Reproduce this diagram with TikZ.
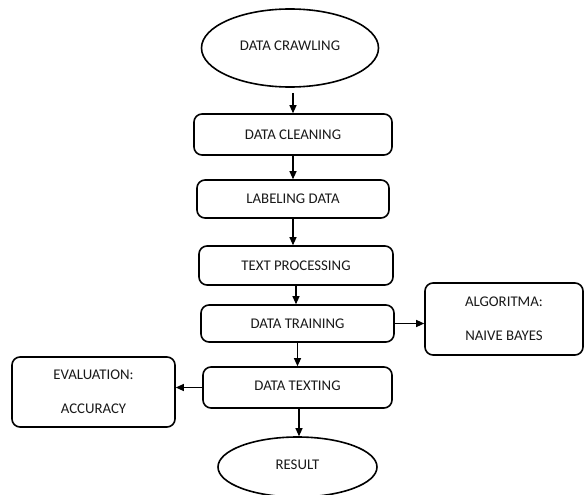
\documentclass[tikz,border=0pt]{standalone}
\usepackage{fontspec}
\setmainfont{Carlito}
\usetikzlibrary{shapes.geometric,arrows.meta}
\begin{document}
\begin{tikzpicture}[x=1pt,y=-1pt,
  every node/.style={font=\fontsize{14.8}{17}\selectfont, text=black!90},
  stepbox/.style={draw, line width=1.6pt, rounded corners=8pt, inner sep=0pt},
  oval/.style={draw, ellipse, line width=1.6pt, inner sep=0pt},
  twoline/.style={align=center, font=\fontsize{14.8}{34}\selectfont},
  arr/.style={line width=1.1pt, -{Triangle[length=8pt,width=7pt]}}]
\useasboundingbox (0,0) rectangle (586,495);

\node[oval, minimum width=177pt, minimum height=78pt] (crawl) at (290,48) {\raisebox{5pt}{DATA CRAWLING}};
\node[stepbox, minimum width=198pt, minimum height=41pt] (clean) at (293,134.5) {DATA CLEANING};
\node[stepbox, minimum width=192pt, minimum height=38pt] (label) at (293,199) {LABELING DATA};
\node[stepbox, minimum width=194pt, minimum height=39pt] (textp) at (296,265.5) {TEXT PROCESSING};
\node[stepbox, minimum width=193pt, minimum height=37pt] (train) at (297.5,323.5) {DATA TRAINING};
\node[stepbox, twoline, minimum width=158pt, minimum height=72pt] (algo) at (504,319) {ALGORITMA:\\NAIVE BAYES};
\node[stepbox, minimum width=189pt, minimum height=41pt] (texting) at (297.5,387.5) {\raisebox{3pt}{DATA TEXTING}};
\node[stepbox, twoline, minimum width=163pt, minimum height=70pt] (eval) at (93.5,392) {EVALUATION:\\ACCURACY};
\node[oval, minimum width=159pt, minimum height=60pt] (result) at (297.5,467) {\raisebox{4pt}{RESULT}};

\draw[arr] ([xshift=3pt,yshift=-5pt]crawl.south) -- (clean.north);
\draw[arr] (clean.south) -- (label.north);
\draw[arr] (label.south) -- (label.south |- textp.north);
\draw[arr] (textp.south) -- (textp.south |- train.north);
\draw[arr] (train.east) -- (train.east -| algo.west);
\draw[arr] (train.south) -- (texting.north);
\draw[arr] (texting.west) -- (texting.west -| eval.east);
\draw[arr] ([xshift=1.5pt]texting.south) -- ([xshift=1.5pt]result.north);
\end{tikzpicture}
\end{document}
